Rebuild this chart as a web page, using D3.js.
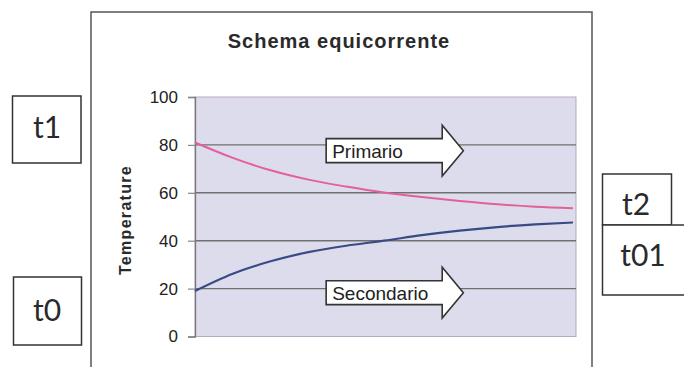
<!DOCTYPE html>
<html>
<head>
<meta charset="utf-8">
<script src="https://cdn.jsdelivr.net/npm/d3@7"></script>
<style>
  html, body { margin: 0; padding: 0; background: #fff; }
  svg { display: block; }
</style>
</head>
<body>
<svg id="chart" width="684" height="367"></svg>
<script>
// ---- data ----
const steps = [0, 1, 2, 3, 4, 5, 6, 7, 8, 9, 10];
const primario = [81, 74.6, 69.4, 65.5, 62.6, 60.1, 58.2, 56.6, 55.2, 54.2, 53.6];
const secondario = [19, 26.2, 31.4, 35.2, 37.9, 40, 42.3, 44.2, 45.7, 46.8, 47.6];
const yTicks = [0, 20, 40, 60, 80, 100];
const gridValues = [20, 40, 60, 80];
const title = "Schema equicorrente";
const yLabel = "Temperature";
const arrowLabels = ["Primario", "Secondario"];
const arrowLevels = [77.6, 18.3];   // centre value of each arrow body
const sideLabels = ["t1", "t0", "t2", "t01"];

const svg = d3.select("#chart");

// plot geometry
const pLeft = 195, pRight = 576, pTop = 97, pBottom = 336.5;
const x = d3.scaleLinear().domain([0, 10]).range([pLeft, 573]);
const y = d3.scaleLinear().domain([0, 100]).range([pBottom, pTop]);

// outer chart frame
svg.append("rect").attr("x", 91).attr("y", 12).attr("width", 501).attr("height", 400)
  .attr("fill", "none").attr("stroke", "#555").attr("stroke-width", 1.5);

// title
svg.append("text").attr("x", 339).attr("y", 48).attr("text-anchor", "middle")
  .attr("font-family", "Arial, 'Liberation Sans', sans-serif").attr("font-weight", "bold")
  .attr("font-size", 20).attr("letter-spacing", 1).attr("fill", "#2a2a2a").text(title);

// plot background
svg.append("rect").attr("x", pLeft).attr("y", pTop).attr("width", pRight - pLeft).attr("height", pBottom - pTop)
  .attr("fill", "#dcdcec").attr("stroke", "#b9a9bd").attr("stroke-width", 1);

// gridlines
svg.append("g").selectAll("line").data(gridValues).join("line")
  .attr("x1", pLeft).attr("x2", pRight)
  .attr("y1", d => y(d)).attr("y2", d => y(d))
  .attr("stroke", "#707070").attr("stroke-width", 1.4);

// y axis
const yAxis = svg.append("g").attr("transform", `translate(${pLeft},0)`)
  .call(d3.axisLeft(y).tickValues(yTicks).tickSize(7).tickPadding(10).tickFormat(d3.format("d")));
yAxis.select(".domain").attr("stroke", "#777").attr("stroke-width", 1.3);
yAxis.selectAll(".tick line").attr("stroke", "#888").attr("stroke-width", 1.2);
yAxis.selectAll(".tick text").attr("font-family", "Arial, 'Liberation Sans', sans-serif")
  .attr("font-size", 17).attr("fill", "#222");

// y label
svg.append("text").attr("transform", "translate(131,220) rotate(-90)").attr("text-anchor", "middle")
  .attr("font-family", "Arial, 'Liberation Sans', sans-serif").attr("font-weight", "bold")
  .attr("font-size", 16).attr("letter-spacing", 1.3).attr("fill", "#2a2a2a").text(yLabel);

// lines
const line = d3.line().x((d, i) => x(steps[i])).y(d => y(d)).curve(d3.curveMonotoneX);
svg.append("path").datum(primario).attr("d", line).attr("fill", "none")
  .attr("stroke", "#e3609c").attr("stroke-width", 2);
svg.append("path").datum(secondario).attr("d", line).attr("fill", "none")
  .attr("stroke", "#394b85").attr("stroke-width", 2.2);

// arrow annotations (positions in data units through the scales)
const bodyStart = 3.47, headBase = 6.54, tip = 7.1;
const bodyHalf = 5.0, headHalf = 10.6; // in value units
arrowLabels.forEach((lab, i) => {
  const c = arrowLevels[i];
  const pts = [
    [x(bodyStart), y(c + bodyHalf)], [x(headBase), y(c + bodyHalf)], [x(headBase), y(c + headHalf)],
    [x(tip), y(c)], [x(headBase), y(c - headHalf)], [x(headBase), y(c - bodyHalf)],
    [x(bodyStart), y(c - bodyHalf)]
  ];
  svg.append("path").attr("d", "M" + pts.map(p => p.join(",")).join("L") + "Z")
    .attr("fill", "#fff").attr("stroke", "#333").attr("stroke-width", 1.6).attr("stroke-linejoin", "miter");
  svg.append("text").attr("x", x(bodyStart) + 6).attr("y", y(c) + 7)
    .attr("font-family", "Arial, 'Liberation Sans', sans-serif").attr("font-size", 19)
    .attr("fill", "#222").text(lab);
});

// side boxes
const boxes = [
  { x: 12.5, y: 96, w: 68.5, h: 67, tx: 47, ty: 138, label: sideLabels[0] },
  { x: 13.5, y: 277, w: 68, h: 68, tx: 47, ty: 321, label: sideLabels[1] },
  { x: 602.5, y: 174, w: 69, h: 51, tx: 636, ty: 215, label: sideLabels[2] },
  { x: 602.5, y: 225, w: 100, h: 70, tx: 643, ty: 266, label: sideLabels[3] }
];
boxes.forEach(b => {
  svg.append("rect").attr("x", b.x).attr("y", b.y).attr("width", b.w).attr("height", b.h)
    .attr("fill", "#fff").attr("stroke", "#333").attr("stroke-width", 1.5);
  svg.append("text").attr("x", b.tx).attr("y", b.ty).attr("text-anchor", "middle")
    .attr("font-family", "Lato, 'Open Sans', sans-serif").attr("font-size", 30)
    .attr("fill", "#2a2a2a").text(b.label);
});
</script>
</body>
</html>
